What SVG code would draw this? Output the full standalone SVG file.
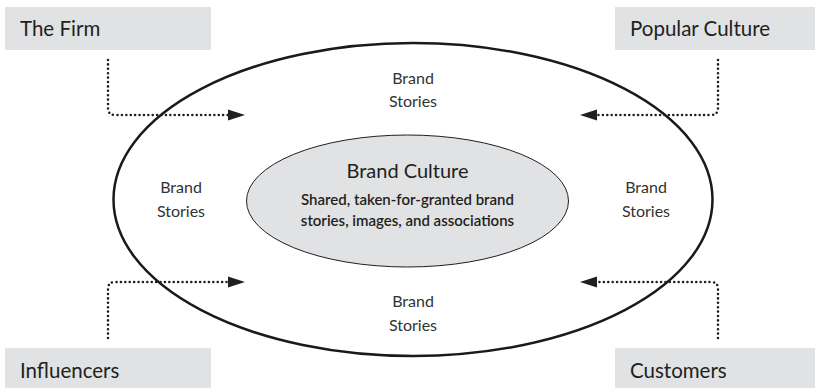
<svg xmlns="http://www.w3.org/2000/svg" width="815" height="388" viewBox="0 0 815 388">
<style>
text{font-family:Lato,"Open Sans","Liberation Sans",sans-serif;fill:#231f20}
.box{fill:#e1e2e3}
.lbl{font-size:20.5px}
.bs{font-size:16px;text-anchor:middle;fill:#333}
.conn{fill:none;stroke:#231f20;stroke-width:2.6;stroke-linecap:round;stroke-dasharray:0 4.4}
.tip{fill:#231f20}
</style>
<rect width="815" height="388" fill="#fff"/>
<g id="outer">
<ellipse cx="413" cy="199.5" rx="299.5" ry="156.5" fill="none" stroke="#1a1a1a" stroke-width="2.5"/>
</g>
<g id="brand-culture">
<ellipse cx="407.5" cy="201" rx="161" ry="66" fill="#e1e2e3" stroke="#231f20" stroke-width="1"/>
<text x="407.5" y="178" font-size="20" text-anchor="middle">Brand Culture</text>
<text x="407.5" y="205" font-size="15" font-weight="600" text-anchor="middle">Shared, taken-for-granted brand</text>
<text x="407.5" y="226" font-size="15" font-weight="600" text-anchor="middle">stories, images, and associations</text>
</g>
<g id="stories-top"><text class="bs" x="413" y="84">Brand</text><text class="bs" x="413" y="107">Stories</text></g>
<g id="stories-left"><text class="bs" x="181" y="193">Brand</text><text class="bs" x="181" y="217">Stories</text></g>
<g id="stories-right"><text class="bs" x="646" y="193">Brand</text><text class="bs" x="646" y="217">Stories</text></g>
<g id="stories-bottom"><text class="bs" x="413" y="307">Brand</text><text class="bs" x="413" y="331">Stories</text></g>
<g id="the-firm"><rect class="box" x="5" y="7" width="206" height="43"/><text class="lbl" x="20" y="36">The Firm</text></g>
<g id="popular-culture"><rect class="box" x="615" y="7" width="200" height="43"/><text class="lbl" x="630" y="36">Popular Culture</text></g>
<g id="influencers"><rect class="box" x="5" y="348" width="206" height="40"/><text class="lbl" x="20" y="378">Influencers</text></g>
<g id="customers"><rect class="box" x="615" y="348" width="200" height="40"/><text class="lbl" x="630" y="378">Customers</text></g>
<g id="connectors">
<path class="conn" d="M108 60 V108 Q108 115 115 115 H229"/>
<path class="tip" d="M245 115 L228 109.5 L228 120.5 Z"/>
<path class="conn" d="M718 60 V108 Q718 115 711 115 H597"/>
<path class="tip" d="M580 115 L597 109.5 L597 120.5 Z"/>
<path class="conn" d="M108 338 V289 Q108 282 115 282 H229"/>
<path class="tip" d="M245 282 L228 276.5 L228 287.5 Z"/>
<path class="conn" d="M718 338 V289 Q718 282 711 282 H597"/>
<path class="tip" d="M580 282 L597 276.5 L597 287.5 Z"/>
</g>
</svg>
